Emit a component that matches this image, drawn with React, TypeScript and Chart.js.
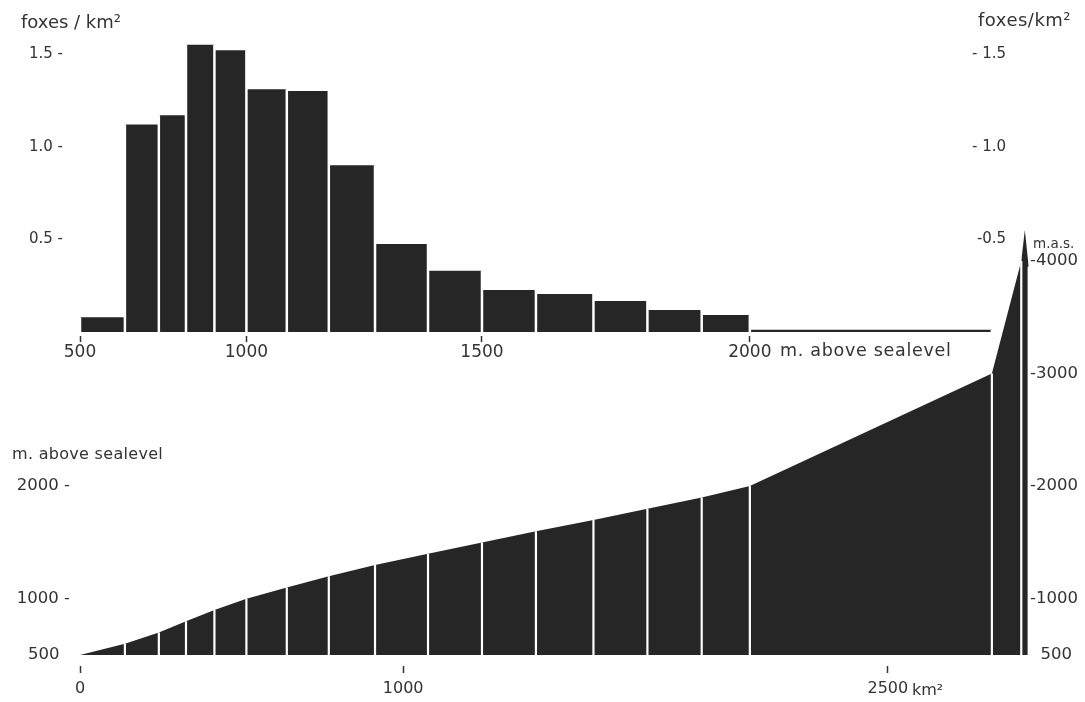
import React, { useEffect, useRef } from 'react';
import { Chart, registerables } from 'chart.js';

Chart.register(...registerables);

// ---- data ----
// elevation band boundaries (m above sea level)
const elevationBounds = [500, 600, 700, 800, 900, 1000, 1100, 1200, 1300, 1400, 1500, 1600, 1700, 1800, 1900, 2000, 3000, 4000];
// cumulative area (km²) lying below each boundary
const cumulativeArea = [0, 139, 244, 328, 416, 515, 640, 770, 913, 1077, 1244, 1411, 1589, 1756, 1924, 2073, 2822, 2913];
// summit of the profile
const summitArea = 2924;
const summitElevation = 4275;
const totalArea = 2936;
const edgeElevation = 3950;
// fox density per elevation band (500-600 ... 1900-2000, 2000-3000)
const foxDensity = [0.08, 1.12, 1.17, 1.55, 1.52, 1.31, 1.3, 0.9, 0.475, 0.33, 0.227, 0.205, 0.167, 0.119, 0.092, 0.012];
// tick labels
const foxTicks = [0.5, 1.0, 1.5];
const elevationTickLabels = [500, 1000, 1500, 2000];
const areaTicks = [0, 1000, 2500];
const leftElevationTicks = [500, 1000, 2000];
const rightElevationTicks = [500, 1000, 2000, 3000, 4000];

// ---- styling ----
const FILL = '#262626';
const TEXT = '#333333';
const FONT = '"DejaVu Sans", sans-serif';
const AREA_MAX = 2940;

const separator = {
  borderColor: (ctx: any) =>
    Math.abs(ctx.p0.x - ctx.p1.x) < 0.01 ? '#ffffff' : 'rgba(0,0,0,0)',
};

function histogramPoints() {
  const pts: { x: number; y: number }[] = [];
  foxDensity.forEach((v, i) => {
    const x0 = cumulativeArea[i];
    const x1 = cumulativeArea[i + 1];
    pts.push({ x: x0, y: 0 }, { x: x0, y: v }, { x: x1, y: v }, { x: x1, y: 0 });
  });
  return pts;
}

function profilePoints() {
  const base = elevationBounds[0];
  const pts: { x: number; y: number }[] = [{ x: cumulativeArea[0], y: base }];
  for (let i = 1; i < elevationBounds.length; i++) {
    const x = cumulativeArea[i];
    const e = elevationBounds[i];
    pts.push({ x, y: e }, { x, y: base }, { x, y: e });
  }
  pts.push({ x: summitArea, y: summitElevation }, { x: totalArea, y: edgeElevation }, { x: totalArea, y: base });
  return pts;
}

function topConfig(): any {
  return {
    type: 'line',
    data: {
      datasets: [
        {
          data: histogramPoints(),
          fill: 'origin',
          backgroundColor: FILL,
          borderColor: 'rgba(0,0,0,0)',
          borderWidth: 2.5,
          borderCapStyle: 'butt',
          pointRadius: 0,
          pointHitRadius: 0,
          tension: 0,
          segment: separator,
        },
      ],
    },
    options: {
      responsive: false,
      animation: false,
      events: [],
      layout: { padding: { top: 35.5, bottom: 325.9, left: 0, right: 0 } },
      plugins: { legend: { display: false }, tooltip: { enabled: false } },
      scales: {
        x: {
          type: 'linear',
          min: 0,
          max: AREA_MAX,
          border: { display: false },
          grid: { drawOnChartArea: false, drawTicks: true, tickLength: 6, tickColor: TEXT, tickWidth: 1.5 },
          ticks: {
            autoSkip: false,
            maxRotation: 0,
            padding: 0,
            color: TEXT,
            font: { family: FONT, size: 17 },
            callback: (_v: any, i: number) => String(elevationTickLabels[i]),
          },
          afterBuildTicks: (s: any) => {
            s.ticks = elevationTickLabels.map((e) => ({ value: cumulativeArea[elevationBounds.indexOf(e)] }));
          },
          afterFit: (s: any) => {
            s.height = 40;
          },
        },
        y: {
          position: 'left',
          min: -0.022,
          max: 1.6,
          grid: { display: false, drawTicks: false },
          border: { display: false },
          ticks: {
            padding: 17,
            color: TEXT,
            font: { family: FONT, size: 15 },
            callback: (v: any) => Number(v).toFixed(1) + ' -',
          },
          afterBuildTicks: (s: any) => {
            s.ticks = foxTicks.map((v) => ({ value: v }));
          },
          afterFit: (s: any) => {
            s.width = 80;
          },
        },
        y2: {
          position: 'right',
          min: -0.022,
          max: 1.6,
          grid: { display: false, drawTicks: false },
          border: { display: false },
          ticks: {
            mirror: true,
            padding: 0,
            color: TEXT,
            font: { family: FONT, size: 15 },
            callback: (v: any) => (Number(v) < 1 ? '-' : '- ') + Number(v).toFixed(1) + '     ',
          },
          afterBuildTicks: (s: any) => {
            s.ticks = foxTicks.map((v) => ({ value: v }));
          },
          afterFit: (s: any) => {
            s.width = 55;
          },
        },
      },
    },
  };
}

function bottomConfig(): any {
  return {
    type: 'line',
    data: {
      datasets: [
        {
          data: profilePoints(),
          fill: { value: elevationBounds[0] },
          backgroundColor: FILL,
          borderColor: 'rgba(0,0,0,0)',
          borderWidth: 2.2,
          borderCapStyle: 'butt',
          pointRadius: 0,
          pointHitRadius: 0,
          tension: 0,
          segment: separator,
        },
      ],
    },
    options: {
      responsive: false,
      animation: false,
      events: [],
      layout: { padding: { top: 221.6, bottom: 0, left: 0, right: 0 } },
      plugins: { legend: { display: false }, tooltip: { enabled: false } },
      scales: {
        x: {
          type: 'linear',
          min: 0,
          max: AREA_MAX,
          border: { display: false },
          grid: { drawOnChartArea: false, drawTicks: true, tickLength: 7, tickColor: TEXT, tickWidth: 1.5 },
          ticks: {
            autoSkip: false,
            maxRotation: 0,
            padding: 6,
            color: TEXT,
            font: { family: FONT, size: 16 },
            callback: (v: any) => String(v),
          },
          afterBuildTicks: (s: any) => {
            s.ticks = areaTicks.map((v) => ({ value: v }));
          },
          afterFit: (s: any) => {
            s.height = 36;
          },
        },
        y: {
          position: 'left',
          min: 402,
          max: 4350,
          grid: { display: false, drawTicks: false },
          border: { display: false },
          ticks: {
            padding: 10,
            color: TEXT,
            font: { family: FONT, size: 16.5 },
            callback: (v: any) => (Number(v) === 500 ? '500  ' : String(v) + ' -'),
          },
          afterBuildTicks: (s: any) => {
            s.ticks = leftElevationTicks.map((v) => ({ value: v }));
          },
          afterFit: (s: any) => {
            s.width = 80;
          },
        },
        y2: {
          position: 'right',
          min: 402,
          max: 4350,
          grid: { display: false, drawTicks: false },
          border: { display: false },
          ticks: {
            padding: 0,
            color: TEXT,
            font: { family: FONT, size: 16.5 },
            callback: (v: any) => (Number(v) === 500 ? '  500' : '-' + String(v)),
          },
          afterBuildTicks: (s: any) => {
            s.ticks = rightElevationTicks.map((v) => ({ value: v }));
          },
          afterFit: (s: any) => {
            s.width = 55;
          },
        },
      },
    },
  };
}

const label = (left: number, top: number, size: number, spacing = 0): React.CSSProperties => ({
  position: 'absolute',
  left,
  top,
  fontSize: size,
  lineHeight: `${size}px`,
  letterSpacing: spacing,
  whiteSpace: 'nowrap',
});

export default function App() {
  const topRef = useRef<HTMLCanvasElement>(null);
  const bottomRef = useRef<HTMLCanvasElement>(null);

  useEffect(() => {
    const bottom = new Chart(bottomRef.current as HTMLCanvasElement, bottomConfig());
    const top = new Chart(topRef.current as HTMLCanvasElement, topConfig());
    return () => {
      top.destroy();
      bottom.destroy();
    };
  }, []);

  return (
    <div
      style={{
        position: 'absolute',
        left: 0,
        top: 0,
        width: 1085,
        height: 702,
        background: '#ffffff',
        overflow: 'hidden',
        fontFamily: FONT,
        color: TEXT,
      }}
    >
      <canvas ref={bottomRef} width={1085} height={702} style={{ position: 'absolute', left: 0, top: 0 }} />
      <canvas ref={topRef} width={1085} height={702} style={{ position: 'absolute', left: 0, top: 0 }} />
      <span style={label(21, 12.8, 18)}>foxes / km²</span>
      <span style={label(978, 10.6, 18, 0.5)}>foxes/km²</span>
      <span style={label(780, 342.3, 17.5, 0.7)}>m. above sealevel</span>
      <span style={label(12, 445.5, 16, 0.3)}>m. above sealevel</span>
      <span style={label(1033, 236.6, 13.5)}>m.a.s.</span>
      <span style={label(912, 681.5, 16)}>km²</span>
    </div>
  );
}
